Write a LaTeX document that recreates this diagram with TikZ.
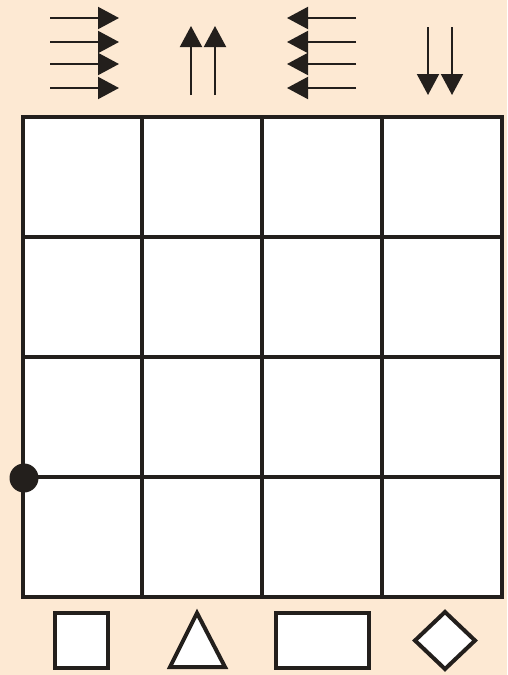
\documentclass[tikz,border=0pt]{standalone}
\usetikzlibrary{arrows.meta,shapes.geometric}
\definecolor{bg}{HTML}{FDE9D3}
\definecolor{ink}{HTML}{231F1C}
\begin{document}
\begin{tikzpicture}[x=1pt,y=-1pt,
  arr/.style={draw=ink,line width=2pt,-{Triangle[length=21pt,width=22pt]}},
  shp/.style={draw=ink,fill=white,line width=4pt,inner sep=0pt},
  gridline/.style={draw=ink,line width=4pt}]
\fill[bg] (0,0) rectangle (507,675);
\useasboundingbox (0,0) rectangle (507,675);
% top arrows: right and left
\foreach \y [count=\i] in {18,42,64,88}{
  \coordinate (rs\i) at (50,\y); \coordinate (re\i) at (119,\y);
  \draw[arr] (rs\i) -- (re\i);
  \coordinate (ls\i) at (356,\y); \coordinate (le\i) at (287,\y);
  \draw[arr] (ls\i) -- (le\i);
}
% up arrows
\foreach \x [count=\i] in {191,215}{
  \coordinate (us\i) at (\x,95); \coordinate (ue\i) at (\x,26);
  \draw[arr] (us\i) -- (ue\i);
}
% down arrows
\foreach \x [count=\i] in {428,452}{
  \coordinate (ds\i) at (\x,27); \coordinate (de\i) at (\x,95);
  \draw[arr] (ds\i) -- (de\i);
}
% grid
\fill[white] (23,117) rectangle (502,597);
\foreach \x in {142,262,382}{\draw[gridline] (\x,117) -- (\x,597);}
\foreach \y in {237,357,477}{\draw[gridline] (23,\y) -- (502,\y);}
\draw[gridline] (23,117) rectangle (502,597);
\node[circle,fill=ink,minimum size=29pt,inner sep=0pt] (dot) at (24,478) {};
% bottom shapes
\node[shp,minimum width=53pt,minimum height=55pt] (sq) at (81.5,640.5) {};
\node[shp,minimum width=93pt,minimum height=55pt] (rect) at (322.5,640.5) {};
\draw[draw=ink,fill=white,line width=4pt,line join=miter] (197,613) -- (225,667) -- (170,667) -- cycle;
\draw[draw=ink,fill=white,line width=4pt,line join=miter] (445,612) -- (475,640.5) -- (445,669) -- (415,640.5) -- cycle;
\end{tikzpicture}
\end{document}
